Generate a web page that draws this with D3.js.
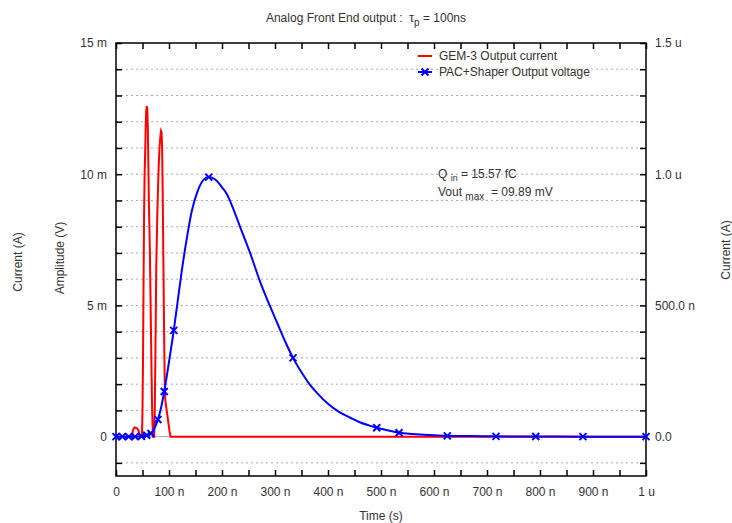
<!DOCTYPE html>
<html>
<head>
<meta charset="utf-8">
<script src="https://cdn.jsdelivr.net/npm/d3@7"></script>
<style>
  body { margin: 0; background: #fff; }
  text { font-family: "Liberation Sans", Arial, sans-serif; fill: #333; }
</style>
</head>
<body>
<script>
// GEM-3 output current (time in ns, value in mA on the left scale)
const gemTime = [0, 30, 32, 35, 40, 43, 45,
    49, 50, 51, 52, 53, 54, 55, 56, 57, 58, 59, 60, 61, 62, 64, 65, 66, 67, 68, 69, 70,
    72, 73, 74, 75, 76, 78, 80, 82, 84, 85, 86, 87, 88, 89, 90, 91, 92, 93, 95, 97, 99, 101, 103, 1000];
const gemCurrent = [0, 0, 0.25, 0.35, 0.32, 0.2, 0,
    0, 1, 3, 6, 8.5, 10, 10.8, 11.8, 12.4, 12.6, 12.5, 11.8, 10.5, 9, 7, 5.5, 4, 2.5, 1.2, 0.4, 0,
    0, 0.8, 2.5, 4.5, 6.5, 8.5, 10, 11, 11.5, 11.65, 11.6, 11, 9.5, 7.5, 5.5, 3.5, 2, 1.4, 1.1, 0.8, 0.5, 0.2, 0, 0];

// PAC+Shaper output voltage (time in ns, value in mV)
const pacTime = [0, 12, 24, 36, 48, 58, 66, 72, 79, 85, 91, 100, 109, 116, 124, 134, 143, 153, 162, 170, 175, 182, 190,
    200, 209, 220, 234, 253, 272, 291, 309, 322, 334, 350, 365, 380, 400, 420, 442, 460, 477, 492, 510, 534, 560,
    590, 625, 670, 717, 792, 881, 1000];
const pacVoltage = [0, 0, 0, 0, 0.01, 0.05, 0.12, 0.3, 0.65, 1.1, 1.72, 2.85, 4.05, 5.1, 6.3, 7.6, 8.6, 9.3, 9.7, 9.87, 9.89, 9.86, 9.75,
    9.5, 9.25, 8.75, 8.0, 7.0, 5.9, 4.95, 4.1, 3.5, 3.0, 2.45, 2.0, 1.65, 1.25, 0.95, 0.72, 0.55, 0.43, 0.34, 0.25, 0.15, 0.1,
    0.06, 0.03, 0.02, 0.01, 0.005, 0, 0];

// markers on the PAC+Shaper curve
const markTime = [0, 12, 24, 36, 48, 58, 66, 79, 91, 109, 175, 334, 492, 534, 625, 717, 792, 881, 1000];
const markVoltage = [0, 0, 0, 0, 0.01, 0.05, 0.12, 0.65, 1.72, 4.05, 9.89, 3.0, 0.34, 0.15, 0.03, 0.01, 0.005, 0, 0];

const xTicks = [0, 100, 200, 300, 400, 500, 600, 700, 800, 900, 1000];
const xTickLabels = ['0', '100 n', '200 n', '300 n', '400 n', '500 n', '600 n', '700 n', '800 n', '900 n', '1 u'];
const yTicks = [0, 5, 10, 15];
const yTickLabels = ['0', '5 m', '10 m', '15 m'];
const y2Ticks = [0, 0.5, 1.0, 1.5];
const y2TickLabels = ['0.0', '500.0 n', '1.0 u', '1.5 u'];

const margin = { top: 43, right: 86, bottom: 47, left: 116 };
const width = 732 - margin.left - margin.right;
const height = 523 - margin.top - margin.bottom;

const root = d3.select('body')
    .append('svg')
    .attr('width', 732)
    .attr('height', 523);

const svg = root.append('g')
    .attr('transform', `translate(${margin.left}, ${margin.top})`);

const x = d3.scaleLinear().domain([0, 1000]).range([0, width]);
const y = d3.scaleLinear().domain([-1.5, 15]).range([height, 0]);
const y2 = d3.scaleLinear().domain([-0.15, 1.5]).range([height, 0]);

// dotted grid
const gridVals = d3.range(-1, 15).filter(v => v !== 0);
svg.selectAll('.grid')
    .data(gridVals)
    .enter()
    .append('line')
    .attr('class', 'grid')
    .attr('x1', 0)
    .attr('x2', width)
    .attr('y1', d => y(d))
    .attr('y2', d => y(d))
    .attr('stroke', '#aaa')
    .attr('stroke-width', 1)
    .attr('stroke-dasharray', '2,3');

svg.append('line')
    .attr('x1', 0)
    .attr('x2', width)
    .attr('y1', y(0))
    .attr('y2', y(0))
    .attr('stroke', '#aaa')
    .attr('stroke-width', 1);

// axes (ticks inward)
function styleAxis(g) {
    g.select('.domain').remove();
    g.selectAll('.tick line').attr('stroke', '#000').attr('stroke-width', 1.5);
    g.selectAll('text').style('font-size', '12px').attr('fill', '#333');
}

const xMinor = d3.range(50, 1000, 100);

svg.append('g')
    .attr('transform', `translate(0,${height})`)
    .call(d3.axisBottom(x).tickValues(xTicks).tickSize(-6).tickSizeOuter(0).tickPadding(11)
        .tickFormat((d, i) => xTickLabels[i]))
    .call(styleAxis);

svg.append('g')
    .attr('transform', `translate(0,${height})`)
    .call(d3.axisBottom(x).tickValues(xMinor).tickSize(-6).tickSizeOuter(0).tickFormat(''))
    .call(styleAxis);

svg.append('g')
    .call(d3.axisTop(x).tickValues(xTicks.concat(xMinor)).tickSize(-6).tickSizeOuter(0).tickFormat(''))
    .call(styleAxis);

svg.append('g')
    .call(d3.axisLeft(y).tickValues(d3.range(-1, 16)).tickSize(-6).tickSizeOuter(0).tickPadding(9)
        .tickFormat(d => yTicks.includes(d) ? yTickLabels[yTicks.indexOf(d)] : ''))
    .call(styleAxis);

svg.append('g')
    .attr('transform', `translate(${width},0)`)
    .call(d3.axisRight(y2).tickValues(d3.range(-1, 16).map(v => v / 10)).tickSize(-6).tickSizeOuter(0).tickPadding(9)
        .tickFormat(d => {
            const k = y2Ticks.findIndex(t => Math.abs(t - d) < 1e-9);
            return k >= 0 ? y2TickLabels[k] : '';
        }))
    .call(styleAxis);

// frame
svg.append('rect')
    .attr('x', 0)
    .attr('y', 0)
    .attr('width', width)
    .attr('height', height)
    .attr('fill', 'none')
    .attr('stroke', '#000')
    .attr('stroke-width', 1.5);

// curves
const gemData = gemTime.map((t, i) => ({ t: t, v: gemCurrent[i] }));
const pacData = pacTime.map((t, i) => ({ t: t, v: pacVoltage[i] }));
const markData = markTime.map((t, i) => ({ t: t, v: markVoltage[i] }));

const line = d3.line()
    .x(d => x(d.t))
    .y(d => y(d.v));

svg.append('path')
    .datum(gemData)
    .attr('d', line)
    .attr('fill', 'none')
    .attr('stroke', '#f00')
    .attr('stroke-width', 2);

svg.append('path')
    .datum(pacData)
    .attr('d', line.curve(d3.curveMonotoneX))
    .attr('fill', 'none')
    .attr('stroke', '#00f')
    .attr('stroke-width', 2);

const cross = 3.5;
svg.selectAll('.mark')
    .data(markData)
    .enter()
    .append('path')
    .attr('class', 'mark')
    .attr('d', d => {
        const cx = x(d.t), cy = y(d.v);
        return `M${cx - cross},${cy - cross}L${cx + cross},${cy + cross}M${cx - cross},${cy + cross}L${cx + cross},${cy - cross}`;
    })
    .attr('stroke', '#00f')
    .attr('stroke-width', 2);

// legend
const legend = root.append('g');
legend.append('line')
    .attr('x1', 418).attr('x2', 432)
    .attr('y1', 56).attr('y2', 56)
    .attr('stroke', '#f00').attr('stroke-width', 2);
legend.append('text')
    .attr('x', 439).attr('y', 60)
    .style('font-size', '12px')
    .text('GEM-3 Output current');
legend.append('line')
    .attr('x1', 418).attr('x2', 432)
    .attr('y1', 72).attr('y2', 72)
    .attr('stroke', '#00f').attr('stroke-width', 2);
legend.append('path')
    .attr('d', `M${425 - cross},${72 - cross}L${425 + cross},${72 + cross}M${425 - cross},${72 + cross}L${425 + cross},${72 - cross}`)
    .attr('stroke', '#00f').attr('stroke-width', 2);
legend.append('text')
    .attr('x', 439).attr('y', 76)
    .style('font-size', '12px')
    .text('PAC+Shaper Output voltage');

// annotation
const note1 = root.append('text')
    .attr('x', 438).attr('y', 178)
    .style('font-size', '12px')
    .attr('xml:space', 'preserve');
note1.append('tspan').text('Q ');
note1.append('tspan').attr('dy', 3).style('font-size', '9px').text('in');
note1.append('tspan').attr('dy', -3).text(' = 15.57 fC');

const note2 = root.append('text')
    .attr('x', 438).attr('y', 196)
    .style('font-size', '12px')
    .attr('xml:space', 'preserve');
note2.append('tspan').text('Vout ');
note2.append('tspan').attr('dy', 4).style('font-size', '10px').text('max');
note2.append('tspan').attr('dy', -4).text('  = 09.89 mV');

// title
const title = root.append('text')
    .attr('x', 366).attr('y', 22)
    .style('text-anchor', 'middle')
    .style('font-size', '12px')
    .attr('xml:space', 'preserve');
title.append('tspan').text('Analog Front End output :  \u03C4');
title.append('tspan').attr('dy', 4).style('font-size', '10px').text('p');
title.append('tspan').attr('dy', -4).text(' = 100ns');

// axis labels
root.append('text')
    .attr('x', 381).attr('y', 520)
    .style('text-anchor', 'middle')
    .style('font-size', '12px')
    .text('Time (s)');

root.append('text')
    .attr('transform', 'translate(22,262) rotate(-90)')
    .style('text-anchor', 'middle')
    .style('font-size', '12px')
    .text('Current (A)');

root.append('text')
    .attr('transform', 'translate(64,258) rotate(-90)')
    .style('text-anchor', 'middle')
    .style('font-size', '12px')
    .text('Amplitude (V)');

root.append('text')
    .attr('transform', 'translate(730,250) rotate(-90)')
    .style('text-anchor', 'middle')
    .style('font-size', '12px')
    .text('Current (A)');
</script>
</body>
</html>
